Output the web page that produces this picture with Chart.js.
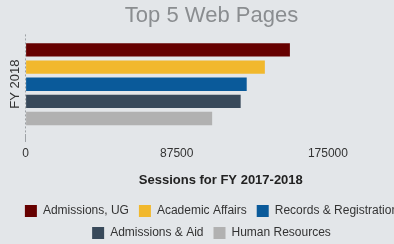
<!DOCTYPE html>
<html>
<head>
<meta charset="utf-8">
<script src="https://cdn.jsdelivr.net/npm/chart.js@4"></script>
<style>
  html, body { margin: 0; padding: 0; background: #e3e6e9; overflow: hidden; }
  #wrap { width: 416px; height: 244px; }
</style>
</head>
<body>
<div id="wrap"><canvas id="chart" width="416" height="244"></canvas></div>
<script>
// data
const categories = ['FY 2018'];
const pageNames = ['Admissions, UG', 'Academic Affairs', 'Records & Registration', 'Admissions & Aid', 'Human Resources'];
const sessions = [153000, 138500, 128000, 124500, 108000];
const xTicks = [0, 87500, 175000];
const colors = ['#660000', '#f1b82d', '#0a5a9a', '#38495a', '#b1b1b1'];

Chart.defaults.font.family = '"Liberation Sans", Arial, sans-serif';

new Chart(document.getElementById('chart').getContext('2d'), {
    type: 'bar',
    data: {
        labels: categories,
        datasets: pageNames.map((name, i) => ({
            label: name,
            data: [sessions[i]],
            backgroundColor: colors[i],
            borderWidth: 0,
            barPercentage: 0.78,
            categoryPercentage: 0.86
        }))
    },
    options: {
        indexAxis: 'y',
        responsive: false,
        animation: false,
        layout: { padding: { left: 7, right: 0, top: 0, bottom: -5 } },
        plugins: {
            title: {
                display: true,
                text: 'Top 5 Web Pages',
                color: '#8a8d90',
                font: { size: 22, weight: 'normal' },
                padding: { top: 3, bottom: 5 }
            },
            legend: {
                position: 'bottom',
                labels: {
                    boxWidth: 12,
                    boxHeight: 12,
                    padding: 10,
                    color: '#333',
                    font: { size: 12 }
                }
            },
            tooltip: { enabled: false }
        },
        scales: {
            x: {
                min: 0,
                // axis runs on past the last label, as in the picture
                max: 226000,
                afterBuildTicks: axis => { axis.ticks = xTicks.map(v => ({ value: v })); },
                ticks: {
                    color: '#333',
                    font: { size: 12 },
                    padding: 4,
                    maxRotation: 0,
                    callback: v => String(v)
                },
                grid: {
                    color: c => c.index === 0 ? '#9ea2a6' : 'transparent',
                    tickLength: 8,
                    lineWidth: 1
                },
                border: { display: false, dash: [2, 2] },
                title: {
                    display: true,
                    text: 'Sessions for FY 2017-2018',
                    color: '#222',
                    font: { size: 13, weight: 'bold' },
                    padding: { top: 8, bottom: 7 }
                }
            },
            y: {
                ticks: { display: false },
                grid: { display: false, drawTicks: false },
                border: { display: false },
                title: {
                    display: true,
                    text: categories[0],
                    color: '#333',
                    font: { size: 13 },
                    padding: { top: 1, bottom: 2 }
                }
            }
        }
    }
});
</script>
</body>
</html>
